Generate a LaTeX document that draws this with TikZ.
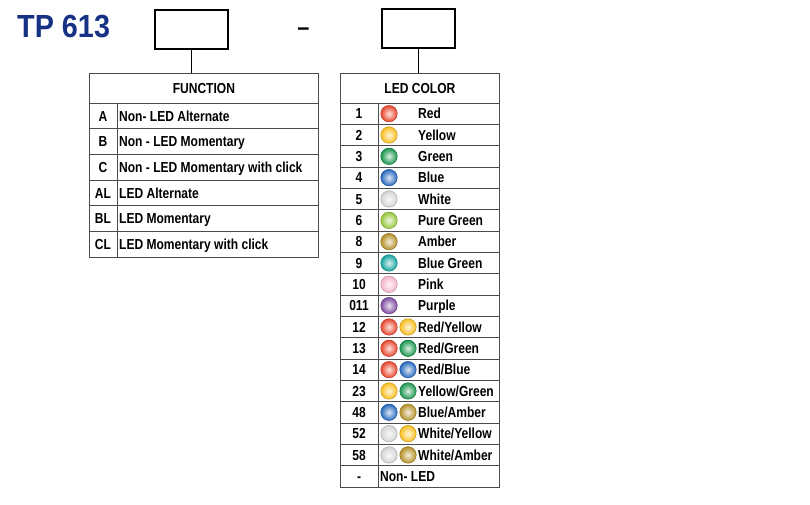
\documentclass[tikz,border=0pt]{standalone}
\usepackage{fontspec}
\setmainfont{Liberation Sans}[FakeStretch=0.83]
\newfontfamily\titlefont{Liberation Sans}[FakeStretch=0.9]

\definecolor{titleblue}{RGB}{22,50,132}
\definecolor{ledred}{RGB}{232,70,45}
\definecolor{ledyellow}{RGB}{250,190,30}
\definecolor{ledgreen}{RGB}{25,150,75}
\definecolor{ledblue}{RGB}{40,105,190}
\definecolor{ledwhite}{RGB}{212,212,212}
\definecolor{ledpure}{RGB}{150,200,60}
\definecolor{ledamber}{RGB}{180,145,40}
\definecolor{ledteal}{RGB}{20,165,160}
\definecolor{ledpink}{RGB}{245,180,205}
\definecolor{ledpurple}{RGB}{125,75,160}

\begin{document}
\begin{tikzpicture}[x=1pt, y=-1pt,
    every node/.style={font=\bfseries\fontsize{14.5}{14.5}\selectfont, text height=10.4pt, text depth=0pt, inner sep=0pt},
    grid/.style={draw=gray!60!black, line width=0.8pt},
    codebox/.style={draw, line width=2pt, minimum width=73pt, minimum height=39pt},
    led/.style={circle, minimum size=16.5pt, inner color=#1!15!white, outer color=#1, draw=#1!80!black, line width=0.5pt}]
  \useasboundingbox (0,0) rectangle (810,505);

  % Part number
  \node[anchor=west, font=\titlefont\bfseries\fontsize{32}{32}\selectfont, text height=23pt, text=titleblue] (title) at (17,26) {TP 613};
  \node[anchor=base, font=\titlefont\bfseries\fontsize{24}{24}\selectfont, text height=0pt] (dash) at (303.5,36) {–};
  \node[codebox] (funcbox) at (191.5,29.5) {};
  \node[codebox] (ledbox) at (418.5,29) {};

  % Function table
  \node[grid, anchor=north west, minimum width=229pt, minimum height=30pt] (funchead) at (89,73) {FUNCTION};
  \foreach \code/\desc [count=\i] in {A/Non- LED Alternate, B/Non - LED Momentary, C/Non - LED Momentary with click, AL/LED Alternate, BL/LED Momentary, CL/LED Momentary with click} {
    \draw[grid] (89,{103+(\i-1)*25.67}) rectangle (318,{103+\i*25.67});
    \draw[grid] (117,{103+(\i-1)*25.67}) -- (117,{103+\i*25.67});
    \node (fc\i) at (103,{103+(\i-0.5)*25.67}) {\code};
    \node[anchor=west] (fd\i) at (119,{103+(\i-0.5)*25.67}) {\desc};
  }

  % LED color table
  \node[grid, anchor=north west, minimum width=159pt, minimum height=30pt] (ledhead) at (340,73) {LED COLOR};
  \foreach \i in {1,...,18} {
    \draw[grid] (340,{103+(\i-1)*21.33}) rectangle (499,{103+\i*21.33});
    \draw[grid] (378,{103+(\i-1)*21.33}) -- (378,{103+\i*21.33});
  }
  \foreach \num/\ca/\name [count=\i] in {1/ledred/Red, 2/ledyellow/Yellow, 3/ledgreen/Green, 4/ledblue/Blue, 5/ledwhite/White, 6/ledpure/Pure Green, 8/ledamber/Amber, 9/ledteal/Blue Green, 10/ledpink/Pink, 011/ledpurple/Purple} {
    \node (ln\i) at (359,{103+(\i-0.5)*21.33}) {\num};
    \node[led=\ca] (la\i) at (389,{103+(\i-0.5)*21.33}) {};
    \node[anchor=west] (lt\i) at (418,{103+(\i-0.5)*21.33}) {\name};
  }
  \foreach \num/\ca/\cb/\na/\nb [count=\i from 11] in {12/ledred/ledyellow/Red/Yellow, 13/ledred/ledgreen/Red/Green, 14/ledred/ledblue/Red/Blue, 23/ledyellow/ledgreen/Yellow/Green, 48/ledblue/ledamber/Blue/Amber, 52/ledwhite/ledyellow/White/Yellow, 58/ledwhite/ledamber/White/Amber} {
    \node (ln\i) at (359,{103+(\i-0.5)*21.33}) {\num};
    \node[led=\ca] (la\i) at (389,{103+(\i-0.5)*21.33}) {};
    \node[led=\cb] (lb\i) at (408,{103+(\i-0.5)*21.33}) {};
    \node[anchor=west] (lt\i) at (418,{103+(\i-0.5)*21.33}) {\na/\nb};
  }
  \node (ln18) at (359,{103+17.5*21.33}) {-};
  \node[anchor=west] (lt18) at (380,{103+17.5*21.33}) {Non- LED};

  % Connectors
  \draw[line width=1.8pt] (funcbox.south) -- (funcbox.south |- funchead.north);
  \draw[line width=1.8pt] (ledbox.south) -- (ledbox.south |- ledhead.north);
\end{tikzpicture}
\end{document}
